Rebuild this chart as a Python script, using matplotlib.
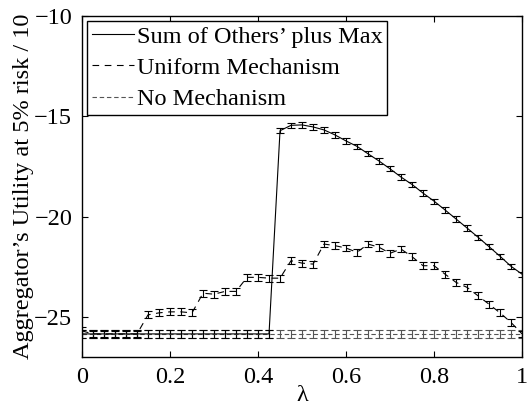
import numpy as np
import matplotlib
matplotlib.use('Agg')
import matplotlib.pyplot as plt
from matplotlib.lines import Line2D

plt.rcParams['font.family'] = ['Liberation Serif', 'DejaVu Serif']

# lambda grid, step 0.025
lam = np.linspace(0, 1, 41)

# Sum of Others' plus Max
sum_others = [-25.85] * 18 + [
    -15.72, -15.45, -15.43, -15.53, -15.68, -15.93, -16.23, -16.5, -16.87,
    -17.23, -17.62, -18.03, -18.4, -18.83, -19.23, -19.67, -20.12, -20.57,
    -21.03, -21.5, -21.98, -22.48, -22.87]
sum_err = [0.2] * 18 + [0.13] * 23

# Uniform Mechanism
uniform = [-25.7] + [-25.85] * 5 + [
    -24.9, -24.8, -24.75, -24.75, -24.8,
    -23.82, -23.87, -23.73, -23.73,
    -23.03, -23.03, -23.07, -23.07,
    -22.2, -22.32, -22.37,
    -21.37, -21.45, -21.57, -21.78, -21.37, -21.53, -21.83, -21.62, -22.0,
    -22.45, -22.45,
    -22.87, -23.28, -23.53, -23.95, -24.37, -24.8, -25.28, -25.85]
uniform_err = [0.17] * 41

# No Mechanism
no_mech = [-25.85] * 41
no_mech_err = [0.2] * 41

labels = ['Sum of Others\u2019 plus Max', 'Uniform Mechanism', 'No Mechanism']
styles = ['-', (0, (6, 5)), (0, (4, 2.5))]
colors = ['black', 'black', '#555555']

fig = plt.figure(figsize=(5.27, 4.07), dpi=100)
ax = fig.add_axes([0.1556, 0.1229, 0.835, 0.8378])

cap = 3.0
ax.errorbar(lam, no_mech, yerr=no_mech_err, color=colors[2], ls=styles[2],
            lw=0.8, elinewidth=0.8, capsize=cap, capthick=0.8)
ax.errorbar(lam, uniform, yerr=uniform_err, color=colors[1], ls=styles[1],
            lw=0.8, elinewidth=0.8, capsize=cap, capthick=0.8)
ax.errorbar(lam, sum_others, yerr=sum_err, color=colors[0], ls=styles[0],
            lw=0.8, elinewidth=0.8, capsize=cap, capthick=0.8)

ax.set_xlim(0, 1)
ax.set_ylim(-27, -10)
ax.set_xticks([0, 0.2, 0.4, 0.6, 0.8, 1])
ax.set_xticklabels(['0', '0.2', '0.4', '0.6', '0.8', '1'])
ax.set_yticks([-25, -20, -15, -10])
ax.set_yticklabels(['\u221225', '\u221220', '\u221215', '\u221210'])
ax.tick_params(direction='in', top=True, right=True, labelsize=17.5,
               length=4, width=0.8, pad=7)
for s in ax.spines.values():
    s.set_linewidth(1.0)

ax.set_xlabel('\u03bb', fontsize=17.5, labelpad=-2)
ax.set_ylabel('Aggregator\u2019s Utility at 5% risk / 10', fontsize=17.5,
              labelpad=0)

handles = [Line2D([], [], color=c, ls=s, lw=0.8) for c, s in zip(colors, styles)]
leg = ax.legend(handles, labels, loc='upper left', fontsize=17.5,
                frameon=True, fancybox=False, edgecolor='black',
                framealpha=1, borderaxespad=0.2, handlelength=1.75,
                handletextpad=0.1, labelspacing=0.38, borderpad=0.2)
leg.get_frame().set_linewidth(1.0)

fig.savefig('out.png', dpi=100)
